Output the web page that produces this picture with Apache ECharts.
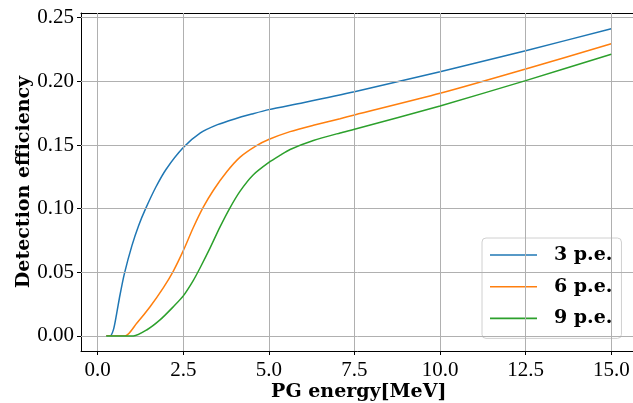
<!DOCTYPE html>
<html>
<head>
<meta charset="utf-8">
<script src="https://cdn.jsdelivr.net/npm/echarts@6/dist/echarts.min.js"></script>
<style>
  html, body { margin: 0; padding: 0; background: #fff; }
  #chart { width: 633px; height: 403px; }
</style>
</head>
<body>
<div id="chart"></div>
<script>
// Detection efficiency vs prompt-gamma energy, for three photo-electron thresholds
const seriesNames = ['3 p.e.', '6 p.e.', '9 p.e.'];

const energy3pe = [0.25, 0.36, 0.46, 0.55, 0.65, 0.78, 1.0, 1.2, 1.4, 1.7, 2.0, 2.5, 3.0, 3.5, 4.0, 4.5, 5.0, 6.0, 7.5, 10, 12.5, 15];
const eff3pe    = [0, 0, 0.005, 0.017, 0.032, 0.049, 0.071, 0.087, 0.100, 0.117, 0.131, 0.148, 0.1595, 0.166, 0.1705, 0.1743, 0.1778, 0.1832, 0.1918, 0.2076, 0.2241, 0.2414];

const energy6pe = [0.25, 0.80, 1.14, 1.53, 1.92, 2.21, 2.5, 2.79, 3.08, 3.38, 3.77, 4.16, 4.64, 5.01, 5.62, 6.30, 7.08, 7.5, 10, 12.5, 15];
const eff6pe    = [0, 0, 0.010, 0.023, 0.038, 0.051, 0.067, 0.085, 0.101, 0.1145, 0.129, 0.1405, 0.1495, 0.1545, 0.1605, 0.1655, 0.1707, 0.1736, 0.1906, 0.2097, 0.2296];

const energy9pe = [0.25, 1.04, 1.43, 1.82, 2.21, 2.5, 2.79, 3.0, 3.28, 3.57, 3.86, 4.16, 4.54, 5.01, 5.32, 5.62, 6.30, 7.08, 7.5, 10, 12.5, 15];
const eff9pe    = [0, 0, 0.0047, 0.0126, 0.023, 0.0315, 0.0435, 0.054, 0.069, 0.0855, 0.1005, 0.1138, 0.1265, 0.1365, 0.1418, 0.1465, 0.1535, 0.1595, 0.1624, 0.1807, 0.2006, 0.2213];

const xTicks = [0, 2.5, 5, 7.5, 10, 12.5, 15];
const yTicks = [0, 0.05, 0.10, 0.15, 0.20, 0.25];

const colors = ['#1f77b4', '#ff7f0e', '#2ca02c'];
const numFont = 'Liberation Serif';
const boldFont = 'DejaVu Serif';

function pairs(xs, ys) { return xs.map((x, i) => [x, ys[i]]); }

const X_MIN = -0.4875, X_MAX = 15.7375;
const Y_MIN = -0.0118, Y_MAX = 0.2537;

// grid lines are drawn as mark lines at the tick values
const markLines = {
  silent: true,
  symbol: 'none',
  label: { show: false },
  lineStyle: { color: '#b0b0b0', width: 1, type: 'solid' },
  data: xTicks.map(v => ({ xAxis: v })).concat(yTicks.map(v => ({ yAxis: v })))
};

const chart = echarts.init(document.getElementById('chart'), null, { renderer: 'canvas' });

function curve(i, xs, ys) {
  return {
    name: seriesNames[i], type: 'line', data: pairs(xs, ys),
    smooth: 0.25,
    showSymbol: false, symbol: 'none',
    lineStyle: { width: 1.5, color: colors[i] }, itemStyle: { color: colors[i] },
    z: 3 + i
  };
}

chart.setOption({
  animation: false,
  backgroundColor: '#fff',
  grid: { left: 81, top: 13, width: 555.5, height: 338, containLabel: false, outerBoundsMode: 'none' },
  xAxis: [{
    type: 'value', min: X_MIN, max: X_MAX,
    position: 'bottom',
    axisLine: { show: true, onZero: false, lineStyle: { color: '#000', width: 1 } },
    axisTick: { show: true, inside: false, length: 4, customValues: xTicks, lineStyle: { color: '#000', width: 1 } },
    axisLabel: {
      customValues: xTicks, margin: 9,
      formatter: v => v.toFixed(1),
      fontFamily: numFont, fontSize: 21, color: '#000'
    },
    splitLine: { show: false },
    name: 'PG energy[MeV]', nameLocation: 'middle', nameGap: 32, nameMoveOverlap: false,
    nameTextStyle: { fontFamily: boldFont, fontWeight: 'bold', fontSize: 19, color: '#000' }
  }, {
    type: 'value', min: X_MIN, max: X_MAX,
    position: 'top',
    axisLine: { show: true, onZero: false, lineStyle: { color: '#000', width: 1 } },
    axisTick: { show: false }, axisLabel: { show: false }, splitLine: { show: false }
  }],
  yAxis: [{
    type: 'value', min: Y_MIN, max: Y_MAX,
    axisLine: { show: true, onZero: false, lineStyle: { color: '#000', width: 1 } },
    axisTick: { show: true, inside: false, length: 4, customValues: yTicks, lineStyle: { color: '#000', width: 1 } },
    axisLabel: {
      customValues: yTicks, margin: 7,
      formatter: v => v.toFixed(2),
      fontFamily: numFont, fontSize: 21, color: '#000'
    },
    splitLine: { show: false },
    name: 'Detection efficiency', nameLocation: 'middle', nameGap: 47, nameMoveOverlap: false,
    nameTextStyle: { fontFamily: boldFont, fontWeight: 'bold', fontSize: 19, color: '#000' }
  }],
  legend: {
    left: 482, top: 238,
    orient: 'vertical',
    data: seriesNames,
    icon: 'rect', itemWidth: 47, itemHeight: 1.6, itemGap: 11.7,
    padding: [7, 9, 10, 8],
    backgroundColor: 'rgba(255,255,255,0.8)',
    borderColor: '#d0d0d0', borderWidth: 1, borderRadius: 4,
    textStyle: { fontFamily: boldFont, fontWeight: 'bold', fontSize: 19, color: '#000', lineHeight: 20, padding: [0, 0, 0, 12] }
  },
  series: [
    { name: 'grid', type: 'line', data: [], markLine: markLines, z: 1 },
    curve(0, energy3pe, eff3pe),
    curve(1, energy6pe, eff6pe),
    curve(2, energy9pe, eff9pe)
  ]
});
</script>
</body>
</html>
